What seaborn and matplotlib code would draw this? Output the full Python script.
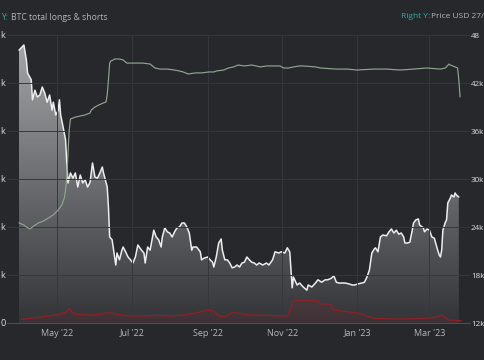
import numpy as np
import pandas as pd
import seaborn as sns
import matplotlib.pyplot as plt
import matplotlib.dates as mdates
from matplotlib.colors import LinearSegmentedColormap

start = pd.Timestamp('2022-03-31')

# white series, right axis: price in k USD (day offset from start)
price_day = [0, 4, 6, 7, 10, 11, 13, 15, 17, 19, 21, 23, 25, 27, 28, 30, 32, 33, 34, 36,
             38, 39, 40, 42, 44, 46, 48, 50, 52, 54, 56, 58, 60, 62, 64, 66, 68, 69, 72, 73,
             74, 76, 78, 79, 80, 82, 84, 85, 87, 89, 91, 93, 95, 97, 100, 102, 103, 105, 107, 110,
             112, 114, 116, 117, 119, 121, 123, 125, 127, 129, 131, 133, 135, 137, 139, 141, 142, 145, 148, 149,
             151, 154, 156, 158, 159, 161, 163, 165, 166, 168, 170, 172, 174, 176, 178, 180, 182, 184, 186, 188,
             190, 192, 194, 196, 199, 202, 204, 207, 209, 212, 214, 217, 219, 221, 222, 223, 224, 227, 229, 232,
             235, 236, 239, 242, 244, 247, 250, 252, 255, 257, 259, 261, 263, 266, 269, 272, 274, 277, 280, 282,
             284, 286, 288, 290, 291, 293, 295, 297, 300, 302, 304, 306, 308, 310, 312, 314, 315, 317, 319, 321,
             322, 324, 326, 327, 330, 331, 333, 335, 337, 339, 341, 343, 344, 345, 346, 348, 349, 350, 352, 353,
             355, 356, 357, 359]
price_k = [46.1, 46.75, 44.9, 43.25, 42.4, 39.9, 41.1, 40.25, 40.5, 41.5, 40.75, 39.6, 40.5, 38.6, 39.6, 38.0, 38.6, 39.9, 38.0, 36.5,
           34.9, 32.0, 29.5, 30.75, 30.1, 30.75, 29.0, 30.5, 29.5, 29.9, 29.0, 29.6, 32.0, 30.25, 30.1, 30.75, 31.5, 30.75, 29.0, 26.5,
           22.75, 22.4, 20.25, 19.25, 20.75, 19.9, 21.1, 21.5, 20.9, 20.25, 19.9, 19.5, 20.25, 21.75, 21.1, 20.75, 19.5, 21.5, 21.1, 23.6,
           22.75, 22.4, 21.5, 22.75, 23.9, 23.4, 23.25, 22.75, 23.4, 23.9, 24.0, 24.5, 24.5, 24.0, 23.25, 21.1, 21.5, 21.5, 20.9, 19.9,
           20.1, 20.25, 19.9, 19.6, 19.0, 20.25, 22.0, 22.5, 21.1, 19.9, 19.9, 19.5, 18.9, 19.0, 19.25, 19.0, 19.5, 19.6, 20.25, 19.9,
           19.6, 19.5, 19.25, 19.5, 19.25, 19.5, 19.25, 19.9, 20.9, 20.75, 20.9, 20.75, 21.4, 20.9, 18.6, 16.4, 17.75, 16.75, 17.0, 16.5,
           16.1, 16.75, 16.5, 17.0, 17.4, 17.1, 17.4, 17.4, 17.6, 17.9, 17.1, 17.0, 17.0, 17.0, 16.9, 16.75, 16.75, 16.9, 17.0, 17.1,
           17.75, 18.6, 20.75, 21.25, 21.4, 20.9, 22.75, 23.0, 22.9, 23.4, 23.75, 23.25, 23.6, 23.1, 23.25, 22.75, 22.0, 22.0, 22.1, 23.6,
           24.5, 24.9, 25.0, 24.25, 23.9, 23.4, 23.75, 23.6, 22.75, 22.6, 21.5, 20.5, 20.25, 21.1, 23.6, 24.6, 24.9, 27.0, 27.6, 28.0,
           27.75, 28.25, 28.0, 27.75]

# green series, left axis: BTC total longs & shorts (k)
longs_day = [0, 4, 6, 9, 12, 16, 20, 24, 28, 32, 35, 37, 38, 39, 40, 41, 42, 46, 50, 54,
             58, 59, 62, 65, 69, 71, 72, 73, 74, 75, 77, 78, 82, 85, 88, 93, 101, 107, 111, 115,
             121, 127, 131, 134, 138, 144, 149, 155, 159, 161, 167, 171, 175, 179, 184, 190, 197, 202, 205, 213,
             216, 220, 224, 229, 232, 242, 246, 259, 268, 276, 289, 300, 311, 322, 333, 344, 348, 351, 352, 356,
             358, 359, 360]
longs_k = [41.7, 40.8, 40.0, 39.2, 40.4, 41.7, 42.5, 43.75, 45.0, 47.1, 49.2, 52.1, 55.4, 60.8, 70.8, 80.4, 85.0, 85.8, 86.25, 86.7,
           87.5, 88.75, 90.0, 90.8, 91.7, 92.1, 95.0, 101.25, 108.3, 109.2, 109.6, 110.0, 110.0, 109.6, 108.3, 108.3, 108.3, 107.9, 106.25, 105.8,
           105.8, 105.4, 105.0, 104.6, 103.75, 104.2, 104.2, 104.6, 104.6, 105.0, 105.4, 106.25, 106.7, 107.5, 107.1, 107.5, 106.7, 107.1, 107.1, 107.1,
           106.25, 106.25, 106.7, 107.1, 107.1, 106.7, 106.25, 105.8, 105.8, 105.4, 105.8, 105.8, 105.4, 105.8, 106.25, 105.8, 106.25, 107.9, 107.5, 106.7,
           106.25, 101.25, 94.2]

# red series, left axis (k)
red_day = [2, 20, 33, 39, 41, 43, 47, 58, 66, 73, 80, 91, 102, 112, 123, 134, 142, 149, 153, 159,
           163, 168, 174, 180, 189, 202, 213, 219, 221, 223, 225, 229, 243, 246, 254, 257, 268, 278, 284, 289,
           303, 316, 333, 342, 345, 348, 350, 361]
red_k = [1.5, 2.6, 3.6, 4.7, 6.1, 4.7, 3.6, 3.3, 3.6, 4.3, 3.6, 2.9, 2.9, 3.2, 2.9, 3.3, 4.0, 4.7, 5.4, 5.0,
         2.9, 2.6, 4.3, 4.0, 3.3, 3.2, 2.9, 2.9, 4.7, 8.9, 9.3, 9.3, 9.3, 7.9, 7.9, 5.4, 4.7, 4.0, 2.9, 2.0,
         1.7, 1.7, 2.0, 2.6, 3.3, 2.4, 1.25, 1.0]

left_ticks = [0, 20, 40, 60, 80, 100, 120]
# only the unit letter of the left labels is inside the picture
left_labels = ['0', 'k', 'k', 'k', 'k', 'k', 'k']
right_ticks = [12, 18, 24, 30, 36, 42, 48]
right_labels = ['12k', '18k', '24k', '30k', '36k', '42k', '48']
month_ticks = ['2022-05-01', '2022-07-01', '2022-09-01', '2022-11-01', '2023-01-01', '2023-03-01']
month_labels = ["May '22", "Jul '22", "Sep '22", "Nov '22", "Jan '23", "Mar '23"]

BG = '#26282c'
GRID = '#34373c'
TXT = '#b4b7bc'
TEAL = '#36a9a3'

price = pd.DataFrame({'date': start + pd.to_timedelta(price_day, unit='D'), 'v': price_k})
longs = pd.DataFrame({'date': start + pd.to_timedelta(longs_day, unit='D'), 'v': longs_k})
red = pd.DataFrame({'date': start + pd.to_timedelta(red_day, unit='D'), 'v': red_k})

sns.set_theme(style="dark", rc={'axes.facecolor': BG, 'figure.facecolor': BG})
plt.rcParams['font.family'] = ['Open Sans', 'DejaVu Sans']

W, H = 485, 360
fig = plt.figure(figsize=(4.85, 3.6), dpi=100)
ax = fig.add_axes([7 / W, 1 - 323 / H, 463 / W, 288 / H])
ax2 = ax.twinx()

# price on right axis with gradient fill
sns.lineplot(data=price, x='date', y='v', ax=ax2, color='#ededed', lw=1.1, zorder=3)
poly = ax2.fill_between(price['date'], price['v'], 12, color='none', lw=0)
xd = mdates.date2num(price['date'])
cmap = LinearSegmentedColormap.from_list('g', [(1, 1, 1, 0.06), (1, 1, 1, 0.58)])
grad = np.linspace(0, 1, 256).reshape(-1, 1)
img = ax2.imshow(grad, cmap=cmap, extent=[xd[0], xd[-1], 12, max(price_k)],
                 aspect='auto', origin='lower', zorder=1)
img.set_clip_path(poly.get_paths()[0], transform=ax2.transData)

# longs/shorts and red on left axis, drawn above
sns.lineplot(data=longs, x='date', y='v', ax=ax, color='#8fa68e', lw=0.85, zorder=3)
sns.lineplot(data=red, x='date', y='v', ax=ax, color='#8a2226', lw=1.0, zorder=3)
ax.fill_between(red['date'], red['v'], 0, color='#8a2226', alpha=0.15, lw=0)
ax.set_zorder(ax2.get_zorder() + 1)
ax.patch.set_visible(False)

xmin = pd.Timestamp('2022-03-21 05:00')
xmax = pd.Timestamp('2023-04-03 03:00')
ax.set_xlim(xmin, xmax)
ax2.set_xlim(xmin, xmax)
ax.set_ylim(0, 120)
ax2.set_ylim(12, 48)

ax.set_yticks(left_ticks)
ax.set_yticklabels(left_labels)
ax2.set_yticks(right_ticks)
ax2.set_yticklabels(right_labels)
ax.set_xticks(pd.to_datetime(month_ticks))
ax.set_xticklabels(month_labels)

ax.tick_params(axis='y', length=0, pad=1.2, labelsize=6.5, labelcolor='#e2e2e2')
ax2.tick_params(axis='y', length=0, pad=0.6, labelsize=5.8, labelcolor='#e2e2e2')
ax.tick_params(axis='x', length=0, pad=4, labelsize=6.5, labelcolor=TXT)
for a in (ax, ax2):
    a.set_xlabel('')
    a.set_ylabel('')
    for s in a.spines.values():
        s.set_visible(False)
ax.spines['bottom'].set_visible(True)
ax.spines['bottom'].set_color('#4a4d53')
ax.spines['bottom'].set_linewidth(0.8)

ax.grid(True, color=GRID, lw=0.7)
ax2.grid(False)

ty = 1 - 17 / H
fig.text(1 / W, ty, 'Y:', ha='left', va='center', fontsize=6.2, color=TEAL)
fig.text(11 / W, ty, 'BTC total longs & shorts', ha='left', va='center', fontsize=6.2, color=TXT)
fig.text(401 / W, ty, 'Right Y:', ha='left', va='center', fontsize=6.0, color=TEAL)
fig.text(431 / W, ty, 'Price USD 27/', ha='left', va='center', fontsize=6.0, color=TXT)

fig.savefig('out.png', dpi=100, facecolor=BG)
